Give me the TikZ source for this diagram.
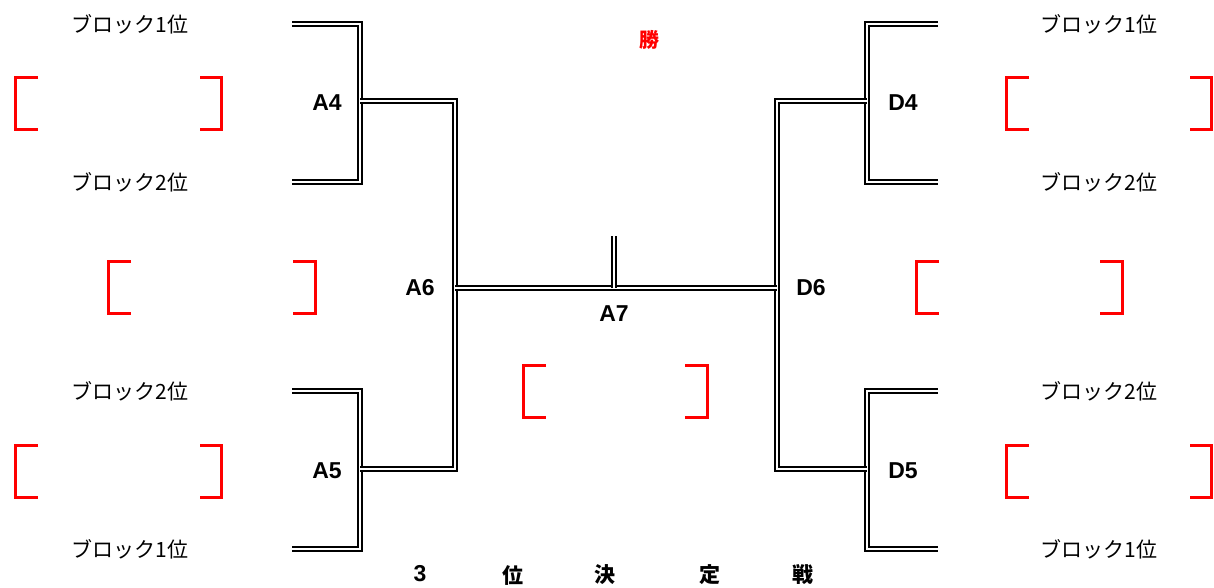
\documentclass[tikz,border=0pt]{standalone}
\usepackage{fontspec}
\setmainfont{Noto Sans CJK JP}
\newfontfamily\lab{Liberation Sans}
\usepackage{tikz}
\usetikzlibrary{positioning}
\tikzset{
x=1pt, y=-1pt, % pixel grid, y down
dbl/.style={double, double distance=2pt, line width=1.7pt, line join=miter}, % bracket lines
rbr/.style={red, line width=3pt, line join=miter}, % red name boxes
blk/.style={font=\fontsize{21}{21}\selectfont, inner sep=0pt}, % block place text
mlab/.style={font=\lab\bfseries\fontsize{23}{23}\selectfont, inner sep=0pt}, % match labels
cjkb/.style={font=\bfseries\fontsize{21}{21}\selectfont, inner sep=0pt}, % bold kanji
}

\begin{document}
\begin{tikzpicture}
    \useasboundingbox (0,0) rectangle (1214,587);

    % left half
    \coordinate (l1) at (292,24);
    \coordinate (l2) at (292,182);
    \coordinate (l3) at (292,391);
    \coordinate (l4) at (292,549);
    \coordinate (a4) at (360,101);
    \coordinate (a5) at (360,469);
    \coordinate (a6) at (455,288);
    \coordinate (a7) at (614,288);
    \coordinate (win) at (614,236);

    % right half
    \coordinate (r1) at (938,24);
    \coordinate (r2) at (938,182);
    \coordinate (r3) at (938,391);
    \coordinate (r4) at (938,549);
    \coordinate (d4) at (867,101);
    \coordinate (d5) at (867,469);
    \coordinate (d6) at (777,288);

    \draw[dbl] (l1) -| (a4) |- (l2);
    \draw[dbl] (l3) -| (a5) |- (l4);
    \draw[dbl] (r1) -| (d4) |- (r2);
    \draw[dbl] (r3) -| (d5) |- (r4);
    \draw[dbl] (a4) -| (a6) |- (a5);
    \draw[dbl] (d4) -| (d6) |- (d5);
    \draw[dbl] (a6) -- (d6);
    \draw[dbl] (a7) -- (win);

    % match labels
    \node[mlab] (tA4) at (327,103) {A4};
    \node[mlab] (tA5) at (327,471) {A5};
    \node[mlab] (tA6) at (420,288) {A6};
    \node[mlab] (tA7) at (614,314) {A7};
    \node[mlab] (tD4) at (903,103) {D4};
    \node[mlab] (tD5) at (903,471) {D5};
    \node[mlab] (tD6) at (811,288) {D6};
    \node[cjkb, red, font=\bfseries\fontsize{20}{20}\selectfont] (tWin) at (649,40) {勝};

    % block places
    \node[blk] (pl1) at (130,24) {ブロック1位};
    \node[blk] (pl2) at (130,182) {ブロック2位};
    \node[blk] (pl3) at (130,391) {ブロック2位};
    \node[blk] (pl4) at (130,549) {ブロック1位};
    \node[blk] (pr1) at (1099,24) {ブロック1位};
    \node[blk] (pr2) at (1099,182) {ブロック2位};
    \node[blk] (pr3) at (1099,391) {ブロック2位};
    \node[blk] (pr4) at (1099,549) {ブロック1位};

    % red boxes
    \draw[rbr] (38,77) -- (15,77) -- (15,129) -- (38,129)
               (200,77) -- (221,77) -- (221,129) -- (200,129);
    \draw[rbr] (38,445) -- (15,445) -- (15,497) -- (38,497)
               (200,445) -- (221,445) -- (221,497) -- (200,497);
    \draw[rbr] (131,261) -- (108,261) -- (108,313) -- (131,313)
               (293,261) -- (315,261) -- (315,313) -- (293,313);
    \draw[rbr] (546,365) -- (523,365) -- (523,417) -- (546,417)
               (685,365) -- (707,365) -- (707,417) -- (685,417);
    \draw[rbr] (939,261) -- (916,261) -- (916,313) -- (939,313)
               (1100,261) -- (1122,261) -- (1122,313) -- (1100,313);
    \draw[rbr] (1029,77) -- (1006,77) -- (1006,129) -- (1029,129)
               (1190,77) -- (1211,77) -- (1211,129) -- (1190,129);
    \draw[rbr] (1029,445) -- (1006,445) -- (1006,497) -- (1029,497)
               (1190,445) -- (1211,445) -- (1211,497) -- (1190,497);

    % third place
    \node[mlab] (t3) at (420,574) {3};
    \node[cjkb] (tPos) at (513,575) {位};
    \node[cjkb] (tDec) at (605,575) {決};
    \node[cjkb] (tFix) at (710,575) {定};
    \node[cjkb] (tWar) at (803,575) {戦};
\end{tikzpicture}
\end{document}
